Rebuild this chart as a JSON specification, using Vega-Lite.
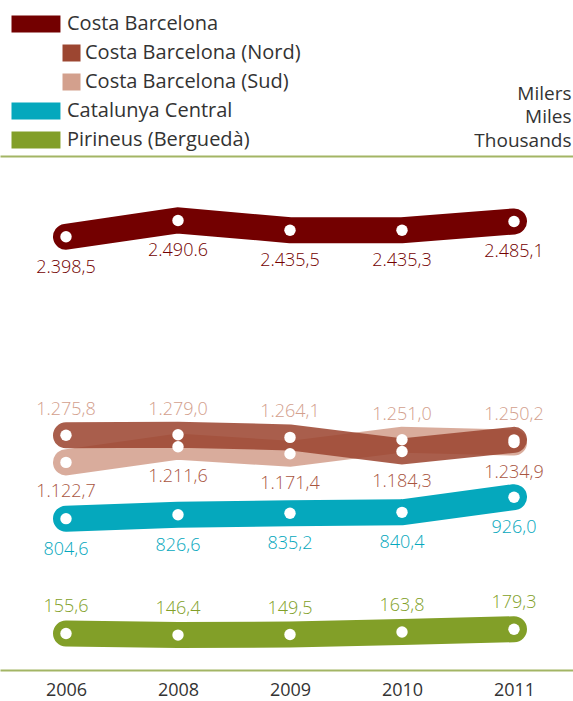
{
  "$schema": "https://vega.github.io/schema/vega-lite/v6.json",
  "width": 573,
  "height": 670,
  "autosize": {"type": "none"},
  "padding": {"left": 0, "right": 0, "top": 0, "bottom": 31},
  "background": "white",
  "config": {"view": {"stroke": null}, "font": "Open Sans"},
  "data": {
    "values": [
      {"year": 2006, "series": "Costa Barcelona (Sud)", "value": 1122.7, "label": "1.122,7"},
      {"year": 2008, "series": "Costa Barcelona (Sud)", "value": 1211.6, "label": "1.211,6"},
      {"year": 2009, "series": "Costa Barcelona (Sud)", "value": 1171.4, "label": "1.171,4"},
      {"year": 2010, "series": "Costa Barcelona (Sud)", "value": 1251.0, "label": "1.251,0"},
      {"year": 2011, "series": "Costa Barcelona (Sud)", "value": 1234.9, "label": "1.234,9"},
      {"year": 2006, "series": "Costa Barcelona (Nord)", "value": 1275.8, "label": "1.275,8"},
      {"year": 2008, "series": "Costa Barcelona (Nord)", "value": 1279.0, "label": "1.279,0"},
      {"year": 2009, "series": "Costa Barcelona (Nord)", "value": 1264.1, "label": "1.264,1"},
      {"year": 2010, "series": "Costa Barcelona (Nord)", "value": 1184.3, "label": "1.184,3"},
      {"year": 2011, "series": "Costa Barcelona (Nord)", "value": 1250.2, "label": "1.250,2"},
      {"year": 2006, "series": "Costa Barcelona", "value": 2398.5, "label": "2.398,5"},
      {"year": 2008, "series": "Costa Barcelona", "value": 2490.6, "label": "2.490.6"},
      {"year": 2009, "series": "Costa Barcelona", "value": 2435.5, "label": "2.435,5"},
      {"year": 2010, "series": "Costa Barcelona", "value": 2435.3, "label": "2.435,3"},
      {"year": 2011, "series": "Costa Barcelona", "value": 2485.1, "label": "2.485,1"},
      {"year": 2006, "series": "Catalunya Central", "value": 804.6, "label": "804,6"},
      {"year": 2008, "series": "Catalunya Central", "value": 826.6, "label": "826,6"},
      {"year": 2009, "series": "Catalunya Central", "value": 835.2, "label": "835,2"},
      {"year": 2010, "series": "Catalunya Central", "value": 840.4, "label": "840,4"},
      {"year": 2011, "series": "Catalunya Central", "value": 926.0, "label": "926,0"},
      {"year": 2006, "series": "Pirineus (Berguedà)", "value": 155.6, "label": "155,6"},
      {"year": 2008, "series": "Pirineus (Berguedà)", "value": 146.4, "label": "146,4"},
      {"year": 2009, "series": "Pirineus (Berguedà)", "value": 149.5, "label": "149,5"},
      {"year": 2010, "series": "Pirineus (Berguedà)", "value": 163.8, "label": "163,8"},
      {"year": 2011, "series": "Pirineus (Berguedà)", "value": 179.3, "label": "179,3"}
    ]
  },
  "encoding": {
    "x": {"field": "year", "type": "ordinal", "scale": {"type": "point", "padding": 0.558, "align": 0.528}, "axis": null},
    "y": {"field": "value", "type": "quantitative", "scale": {"domain": [-51, 3737], "zero": false, "nice": false}, "axis": null}
  },
  "layer": [
    {
      "mark": {"type": "line", "strokeWidth": 26, "strokeCap": "round", "strokeJoin": "miter"},
      "encoding": {
        "x": {
          "field": "year", "type": "ordinal",
          "scale": {"type": "point", "padding": 0.558, "align": 0.528},
          "axis": {
            "orient": "bottom", "domain": true, "domainColor": "#a3b565", "domainWidth": 2,
            "ticks": false, "grid": false, "title": null, "labelAngle": 0,
            "labelFont": "Open Sans", "labelFontSize": 18, "labelColor": "#333333",
            "labelBaseline": "middle", "labelPadding": 20
          }
        },
        "y": {
          "field": "value", "type": "quantitative",
          "scale": {"domain": [-51, 3737], "zero": false, "nice": false},
          "axis": {
            "orient": "right", "domain": false, "ticks": false, "labels": false, "grid": false,
            "title": ["Milers", "Miles", "Thousands"], "titleAngle": 0, "titleAlign": "right",
            "titleBaseline": "alphabetic", "titleX": -2, "titleY": 99, "titleFont": "Open Sans",
            "titleFontSize": 19, "titleFontWeight": "normal", "titleColor": "#333333", "titleLineHeight": 23.5
          }
        },
        "color": {
          "field": "series", "type": "nominal",
          "scale": {
            "domain": ["Costa Barcelona", "Costa Barcelona (Nord)", "Costa Barcelona (Sud)", "Catalunya Central", "Pirineus (Berguedà)"],
            "range": ["#730000", "#9c4631", "#d3a08d", "#05a8bd", "#829f28"]
          },
          "legend": {
            "orient": "none", "legendX": 10, "legendY": 14, "title": null,
            "labelFont": "Open Sans", "labelFontSize": 20, "labelColor": "#333333", "labelLimit": 400,
            "symbolSize": 289, "labelOffset": 37, "rowPadding": 9, "symbolOpacity": 1,
            "symbolStrokeWidth": 0,
            "encode": {
              "symbols": {"update": {
                "shape": {"signal": "(datum.value === 'Costa Barcelona (Nord)' || datum.value === 'Costa Barcelona (Sud)') ? 'M5,-1H7.12V1H5Z' : 'M-1,-1H4.76V1H-1Z'"},
                "fill": {"scale": "color", "field": "value"},
                "fillOpacity": {"value": 1},
                "opacity": {"value": 1},
                "strokeWidth": {"value": 0}
              }},
              "labels": {"update": {
                "dx": {"signal": "(datum.value === 'Costa Barcelona (Nord)' || datum.value === 'Costa Barcelona (Sud)') ? 18 : 0"}
              }}
            }
          }
        },
        "opacity": {
          "condition": {"test": "datum.series === 'Costa Barcelona (Nord)' || datum.series === 'Costa Barcelona (Sud)'", "value": 0.87},
          "value": 1
        }
      }
    },
    {
      "mark": {"type": "point", "filled": true, "color": "white", "size": 130, "opacity": 1, "strokeWidth": 0},
      "encoding": {
        "x": {
          "field": "year", "type": "ordinal",
          "scale": {"type": "point", "padding": 0.558, "align": 0.528},
          "axis": {"orient": "top", "offset": -156, "domain": true, "domainColor": "#a3b565", "domainWidth": 2, "ticks": false, "labels": false, "grid": false, "title": null}
        }
      }
    },
    {
      "transform": [{"filter": {"field": "series", "oneOf": ["Costa Barcelona", "Catalunya Central"]}}],
      "mark": {"type": "text", "dy": 31, "font": "Open Sans", "fontSize": 18, "fontWeight": 300},
      "encoding": {
        "text": {"field": "label", "type": "nominal"},
        "color": {"field": "series", "type": "nominal", "legend": null}
      }
    },
    {
      "transform": [{"filter": {"field": "series", "equal": "Pirineus (Berguedà)"}}],
      "mark": {"type": "text", "dy": -26, "font": "Open Sans", "fontSize": 18, "fontWeight": 300},
      "encoding": {
        "text": {"field": "label", "type": "nominal"},
        "color": {"field": "series", "type": "nominal", "legend": null}
      }
    },
    {
      "transform": [
        {"filter": {"field": "series", "oneOf": ["Costa Barcelona (Nord)", "Costa Barcelona (Sud)"]}},
        {"joinaggregate": [{"op": "max", "field": "value", "as": "maxv"}], "groupby": ["year"]},
        {"filter": "datum.value === datum.maxv"}
      ],
      "mark": {"type": "text", "dy": -25, "font": "Open Sans", "fontSize": 18, "fontWeight": 300, "color": "#d3a08d"},
      "encoding": {"text": {"field": "label", "type": "nominal"}}
    },
    {
      "transform": [
        {"filter": {"field": "series", "oneOf": ["Costa Barcelona (Nord)", "Costa Barcelona (Sud)"]}},
        {"joinaggregate": [{"op": "max", "field": "value", "as": "maxv"}], "groupby": ["year"]},
        {"filter": "datum.value < datum.maxv"}
      ],
      "mark": {"type": "text", "dy": 30, "font": "Open Sans", "fontSize": 18, "fontWeight": 300, "color": "#a9563f"},
      "encoding": {"text": {"field": "label", "type": "nominal"}}
    }
  ],
  "resolve": {"axis": {"x": "independent", "y": "independent"}}
}
